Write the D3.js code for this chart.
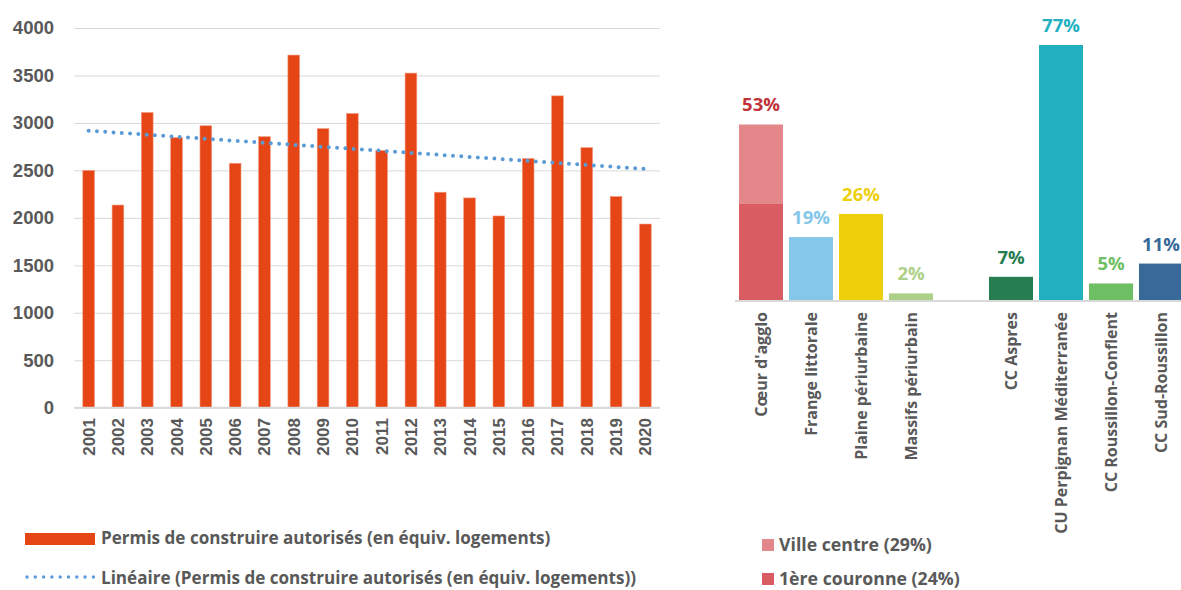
<!DOCTYPE html>
<html>
<head>
<meta charset="utf-8">
<script src="https://cdn.jsdelivr.net/npm/d3@7"></script>
<style>
  body { margin: 0; background: #fff; }
  svg { display: block; }
  .tick text { fill: #595959; font-family: "Liberation Sans", Arial, sans-serif; font-weight: bold; }
</style>
</head>
<body>
<div id="chart"></div>
<script>
// --- data ---
var years = ["2001", "2002", "2003", "2004", "2005", "2006", "2007", "2008", "2009", "2010",
  "2011", "2012", "2013", "2014", "2015", "2016", "2017", "2018", "2019", "2020"];
var permis = [2500, 2135, 3110, 2845, 2970, 2575, 2855, 3715, 2940, 3100,
  2710, 3525, 2270, 2210, 2020, 2625, 3285, 2740, 2225, 1935];
var trendEnds = [2918, 2515]; // linear trend at 2001 and 2020
var yTicks = [0, 500, 1000, 1500, 2000, 2500, 3000, 3500, 4000];

var territories = ["Cœur d'agglo", "Frange littorale", "Plaine périurbaine", "Massifs périurbain", "",
  "CC Aspres", "CU Perpignan Méditerranée", "CC Roussillon-Conflent", "CC Sud-Roussillon"];
var shares = [53, 19, 26, 2, null, 7, 77, 5, 11];
var barColors = ["#e3878a", "#84c7e9", "#eecf0c", "#add088", null, "#257d50", "#22b0c1", "#6ebe64", "#376a98"];
var labelColors = ["#c0313a", "#84c7e9", "#eecf0c", "#add088", null, "#257d50", "#22b0c1", "#6ebe64", "#376a98"];
// stacked parts of the Cœur d'agglo bar (bottom, top)
var coeurParts = [29, 24];
var coeurColors = ["#da5c63", "#e3878a"];
var coeurLegend = ["Ville centre (29%)", "1ère couronne (24%)"];

var svgWidth = 1181;
var svgHeight = 590;
var grey = "#595959";
var textFont = "'Open Sans', Lato, sans-serif";

var svg = d3.select("#chart")
  .append("svg")
  .attr("width", svgWidth)
  .attr("height", svgHeight);

// ================= left chart =================
var left = { x0: 74, x1: 660, top: 28, bottom: 407.7 };

var x = d3.scaleBand()
  .domain(years)
  .range([left.x0, left.x1])
  .paddingInner(0.6)
  .paddingOuter(0.3);

var y = d3.scaleLinear()
  .domain([0, 4000])
  .range([left.bottom, left.top]);

// gridlines + tick labels
var yAxis = svg.append("g")
  .attr("transform", `translate(${left.x0},0)`)
  .call(d3.axisLeft(y)
    .tickValues(yTicks)
    .tickFormat(d3.format("d"))
    .tickSize(-(left.x1 - left.x0))
    .tickPadding(20));
yAxis.select(".domain").remove();
yAxis.selectAll("line").attr("stroke", "#d9d9d9");
yAxis.selectAll("text").attr("font-size", 18.5);

// bars
svg.append("g")
  .selectAll("rect")
  .data(permis)
  .enter()
  .append("rect")
  .attr("x", (d, i) => x(years[i]))
  .attr("y", d => y(d))
  .attr("width", x.bandwidth())
  .attr("height", d => y(0) - y(d))
  .attr("fill", "#e64515")
  .attr("stroke", "#f29a80")
  .attr("stroke-width", 0.6);

// bottom axis line
svg.append("line")
  .attr("x1", left.x0).attr("x2", left.x1)
  .attr("y1", y(0)).attr("y2", y(0))
  .attr("stroke", "#d9d9d9").attr("stroke-width", 2);

// year labels
svg.append("g")
  .selectAll("text")
  .data(years)
  .enter()
  .append("text")
  .attr("transform", d => `translate(${x(d) + x.bandwidth() / 2 + 6},418) rotate(-90)`)
  .attr("text-anchor", "end")
  .attr("font-family", "'Liberation Sans', Arial, sans-serif")
  .attr("font-weight", "bold")
  .attr("font-size", 17)
  .attr("fill", grey)
  .text(d => d);

// linear trend (dotted)
var trendX = [years[0], years[years.length - 1]];
svg.append("line")
  .attr("x1", x(trendX[0]) + x.bandwidth() / 2)
  .attr("x2", x(trendX[1]) + x.bandwidth() / 2)
  .attr("y1", y(trendEnds[0]))
  .attr("y2", y(trendEnds[1]))
  .attr("stroke", "#5b9bd5")
  .attr("stroke-width", 4)
  .attr("stroke-linecap", "round")
  .attr("stroke-dasharray", "0 8.3");

// left legend
svg.append("rect")
  .attr("x", 25).attr("y", 533)
  .attr("width", 70).attr("height", 12)
  .attr("fill", "#e64515");
svg.append("text")
  .attr("x", 101).attr("y", 544)
  .attr("font-family", textFont).attr("font-weight", "bold")
  .attr("font-size", 17.1).attr("fill", grey)
  .text("Permis de construire autorisés (en équiv. logements)");

svg.append("line")
  .attr("x1", 27).attr("x2", 95)
  .attr("y1", 577).attr("y2", 577)
  .attr("stroke", "#5b9bd5")
  .attr("stroke-width", 3.5)
  .attr("stroke-linecap", "round")
  .attr("stroke-dasharray", "0 8.3");
svg.append("text")
  .attr("x", 101).attr("y", 584)
  .attr("font-family", textFont).attr("font-weight", "bold")
  .attr("font-size", 17.1).attr("fill", grey)
  .text("Linéaire (Permis de construire autorisés (en équiv. logements))");

// ================= right chart =================
var right = { x0: 736, x1: 1186, base: 300 };

var x2 = d3.scaleBand()
  .domain(d3.range(territories.length))
  .range([right.x0, right.x1])
  .paddingInner(0.12)
  .paddingOuter(0.06);

var y2 = d3.scaleLinear()
  .domain([0, 77])
  .range([right.base, 45]);

var barsData = shares.map((v, i) => ({ i: i, v: v })).filter(d => d.v !== null);

// single bars (skip Cœur d'agglo, drawn stacked)
svg.append("g")
  .selectAll("rect")
  .data(barsData.filter(d => d.i !== 0))
  .enter()
  .append("rect")
  .attr("x", d => x2(d.i))
  .attr("y", d => y2(d.v))
  .attr("width", x2.bandwidth())
  .attr("height", d => y2(0) - y2(d.v))
  .attr("fill", d => barColors[d.i]);

// stacked Cœur d'agglo
var stackStart = [0, coeurParts[0]];
svg.append("g")
  .selectAll("rect")
  .data(coeurParts)
  .enter()
  .append("rect")
  .attr("x", x2(0))
  .attr("y", (d, i) => y2(stackStart[i] + d))
  .attr("width", x2.bandwidth())
  .attr("height", d => y2(0) - y2(d))
  .attr("fill", (d, i) => coeurColors[i]);

// base line
svg.append("line")
  .attr("x1", 735).attr("x2", svgWidth)
  .attr("y1", right.base + 1).attr("y2", right.base + 1)
  .attr("stroke", "#d9d9d9").attr("stroke-width", 2);

// value labels
svg.append("g")
  .selectAll("text")
  .data(barsData)
  .enter()
  .append("text")
  .attr("x", d => x2(d.i) + x2.bandwidth() / 2)
  .attr("y", d => y2(d.v) - 13)
  .attr("text-anchor", "middle")
  .attr("font-family", textFont).attr("font-weight", "bold")
  .attr("font-size", 18.5)
  .attr("fill", d => labelColors[d.i])
  .text(d => d.v + "%");

// category labels
svg.append("g")
  .selectAll("text")
  .data(territories.map((t, i) => ({ t: t, i: i })).filter(d => d.t !== ""))
  .enter()
  .append("text")
  .attr("transform", d => `translate(${x2(d.i) + x2.bandwidth() / 2 + 6},312) rotate(-90)`)
  .attr("text-anchor", "end")
  .attr("font-family", textFont).attr("font-weight", "bold")
  .attr("font-size", 16)
  .attr("fill", grey)
  .text(d => d.t);

// right legend (light first, as in picture)
var legendColors = [coeurColors[1], coeurColors[0]];
var legendG = svg.append("g")
  .selectAll("g")
  .data(coeurLegend)
  .enter()
  .append("g")
  .attr("transform", (d, i) => `translate(762,${539 + i * 34})`);
legendG.append("rect")
  .attr("width", 12).attr("height", 12)
  .attr("fill", (d, i) => legendColors[i]);
legendG.append("text")
  .attr("x", 17).attr("y", 12)
  .attr("font-family", textFont).attr("font-weight", "bold")
  .attr("font-size", 17.7).attr("fill", grey)
  .text(d => d);
</script>
</body>
</html>
